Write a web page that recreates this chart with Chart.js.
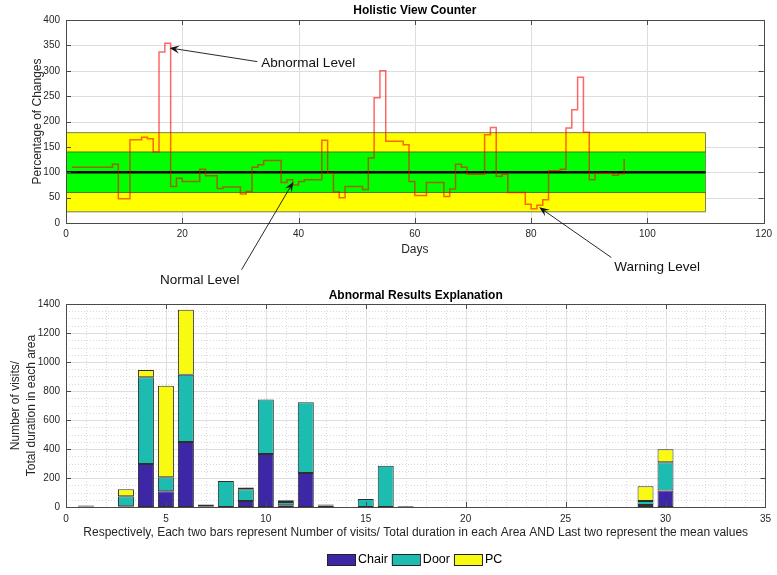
<!DOCTYPE html>
<html><head><meta charset="utf-8">
<script src="https://cdn.jsdelivr.net/npm/chart.js@4.4.1/dist/chart.umd.min.js"></script>
<style>
html,body{margin:0;padding:0;background:#fff;width:777px;height:575px;overflow:hidden;position:relative}
#c1{position:absolute;left:0;top:0}
#c2{position:absolute;left:0;top:290px}
</style></head><body>
<canvas id="c1" width="777" height="290"></canvas>
<canvas id="c2" width="777" height="285"></canvas>
<script>
// ---------------- DATA ----------------
// Top chart: step series (day where a level starts, level value)
const stepDays = [1,8,9,11,13,14,15,16,17,18,19,20,23,24,26,27,30,31,32,33,34,37,38,39,40,41,44,45,46,47,48,51,52,53,54,55,58,59,60,62,65,66,67,68,69,72,73,74,75,76,79,80,81,82,83,85,86,87,88,89,90,91,94,95,96];
const stepValues = [110,116,48,164,169,166,140,337,354,72,88,82,106,93,68,71,57,62,110,115,123,80,85,75,82,85,163,98,61,50,72,66,128,247,300,161,154,82,54,80,52,67,116,110,96,174,188,92,96,60,37,28,35,46,103,106,187,223,287,179,85,98,94,97,126];
const meanLevel = 100;
const normalBand = [60, 140];
const warningBand = [22, 178];
const bandDays = [0, 110];

// Bottom chart: stacked bars
const barPositions = [1,3,4,5,6,7,8,9,10,11,12,13,15,16,17,29,30];
const chairValues  = [0,5,297,108,449,5,0,41,366,12,235,0,0,0,6,14,113];
const doorValues   = [3,69,598,97,463,13,180,81,375,23,488,10,55,285,0,27,195];
const pcValues     = [7,48,49,631,448,0,0,12,0,11,0,8,0,0,0,102,90];
const seriesNames  = ['Chair','Door','PC'];

// ---------------- STYLE ----------------
const FONT = "'Liberation Sans', Arial, Helvetica, sans-serif";
const AX = '#262626';
const seriesColors = ['#3e27a6', '#1cbdb0', '#f8fa12'];

function txt(ctx, s, x, y, size, opt = {}) {
  ctx.save();
  ctx.font = (opt.bold ? 'bold ' : '') + size + 'px ' + FONT;
  ctx.fillStyle = opt.color || AX;
  ctx.textAlign = opt.align || 'center';
  ctx.textBaseline = 'middle';
  ctx.translate(x, y);
  if (opt.rot) ctx.rotate(opt.rot);
  ctx.fillText(s, 0, 0);
  ctx.restore();
}

function arrow(ctx, x1, y1, x2, y2) {
  ctx.save();
  ctx.strokeStyle = '#111'; ctx.fillStyle = '#111'; ctx.lineWidth = 0.9;
  const ang = Math.atan2(y2 - y1, x2 - x1);
  const L = 10, W = 4;
  ctx.beginPath(); ctx.moveTo(x1, y1);
  ctx.lineTo(x2 - 0.6 * L * Math.cos(ang), y2 - 0.6 * L * Math.sin(ang)); ctx.stroke();
  ctx.beginPath();
  ctx.moveTo(x2, y2);
  ctx.lineTo(x2 - L * Math.cos(ang) + W * Math.sin(ang), y2 - L * Math.sin(ang) - W * Math.cos(ang));
  ctx.lineTo(x2 - 0.6 * L * Math.cos(ang), y2 - 0.6 * L * Math.sin(ang));
  ctx.lineTo(x2 - L * Math.cos(ang) - W * Math.sin(ang), y2 - L * Math.sin(ang) + W * Math.cos(ang));
  ctx.closePath(); ctx.fill();
  ctx.restore();
}

const px = v => Math.round(v) + 0.5;

const matlabAxes = {
  id: 'matlabAxes',
  beforeDatasetsDraw(chart, args, o) {
    const { ctx, chartArea: a, scales: { x, y } } = chart;
    ctx.save();
    ctx.lineWidth = 1;
    if (o.minor) {
      ctx.strokeStyle = '#d9d9d9'; ctx.setLineDash([1, 2]);
      for (let v = x.min; v <= x.max; v += o.minor[0]) {
        if (v % o.major[0] === 0) continue;
        const p = px(x.getPixelForValue(v));
        ctx.beginPath(); ctx.moveTo(p, a.top); ctx.lineTo(p, a.bottom); ctx.stroke();
      }
      for (let v = y.min; v <= y.max; v += o.minor[1]) {
        if (v % o.major[1] === 0) continue;
        const p = px(y.getPixelForValue(v));
        ctx.beginPath(); ctx.moveTo(a.left, p); ctx.lineTo(a.right, p); ctx.stroke();
      }
      ctx.setLineDash([]);
    }
    ctx.strokeStyle = '#dedede';
    for (let v = x.min + o.major[0]; v < x.max; v += o.major[0]) {
      const p = px(x.getPixelForValue(v));
      ctx.beginPath(); ctx.moveTo(p, a.top); ctx.lineTo(p, a.bottom); ctx.stroke();
    }
    for (let v = y.min + o.major[1]; v < y.max; v += o.major[1]) {
      const p = px(y.getPixelForValue(v));
      ctx.beginPath(); ctx.moveTo(a.left, p); ctx.lineTo(a.right, p); ctx.stroke();
    }
    ctx.restore();
  },
  afterDatasetsDraw(chart, args, o) {
    const { ctx, chartArea: a, scales: { x, y } } = chart;
    ctx.save();
    ctx.strokeStyle = '#4a4a4a'; ctx.lineWidth = 1;
    ctx.strokeRect(px(a.left), px(a.top), Math.round(a.right - a.left), Math.round(a.bottom - a.top));
    const t = 5;
    ctx.beginPath();
    for (let v = x.min + o.major[0]; v < x.max; v += o.major[0]) {
      const p = px(x.getPixelForValue(v));
      ctx.moveTo(p, a.bottom); ctx.lineTo(p, a.bottom - t);
      ctx.moveTo(p, a.top); ctx.lineTo(p, a.top + t);
    }
    for (let v = y.min + o.major[1]; v < y.max; v += o.major[1]) {
      const p = px(y.getPixelForValue(v));
      ctx.moveTo(a.left, p); ctx.lineTo(a.left + t, p);
      ctx.moveTo(a.right, p); ctx.lineTo(a.right - t, p);
    }
    ctx.stroke();
    ctx.restore();
  },
  afterDraw(chart, args, o) {
    const { ctx, chartArea: a, scales: { x, y } } = chart;
    const cx = (a.left + a.right) / 2;
    txt(ctx, o.title, cx, o.titleY, 12, { bold: true, color: '#000' });
    txt(ctx, o.xlabel, cx, o.xlabelY, 12);
    o.ylabel.forEach((s, i) => txt(ctx, s, o.ylabelX[i], (a.top + a.bottom) / 2, 12, { rot: -Math.PI / 2 }));
    (o.notes || []).forEach(n => {
      arrow(ctx, x.getPixelForValue(n.from[0]), y.getPixelForValue(n.from[1]),
                 x.getPixelForValue(n.to[0]), y.getPixelForValue(n.to[1]));
      txt(ctx, n.text, x.getPixelForValue(n.at[0]), y.getPixelForValue(n.at[1]), 13.5, { align: n.align, color: '#111' });
    });
    if (o.legend) {
      const L = o.legend;
      let lx = L.x;
      chart.data.datasets.forEach(ds => {
        ctx.save();
        ctx.fillStyle = ds.backgroundColor; ctx.strokeStyle = '#222'; ctx.lineWidth = 1;
        ctx.fillRect(lx, L.y - 5, 28, 11); ctx.strokeRect(lx + 0.5, L.y - 4.5, 28, 11);
        ctx.restore();
        txt(ctx, ds.label, lx + 31, L.y + 0.5, 12.5, { align: 'left', color: '#000' });
        ctx.save(); ctx.font = '12.5px ' + FONT;
        lx += 31 + ctx.measureText(ds.label).width + 4;
        ctx.restore();
      });
    }
  }
};

const tickFont = { family: FONT, size: 10 };
const plain = v => String(v);

// ---------------- TOP CHART ----------------
const stepPoints = stepDays.map((d, i) => ({ x: d, y: stepValues[i] }));
const hline = v => bandDays.map(d => ({ x: d, y: v }));

new Chart(document.getElementById('c1'), {
  type: 'line',
  data: {
    datasets: [
      { data: stepPoints, borderColor: 'rgba(255,0,0,0.6)', borderWidth: 1.5, stepped: true, fill: false, order: 0 },
      { data: hline(meanLevel), borderColor: '#000', borderWidth: 2.6, fill: false, order: 1 },
      { data: hline(normalBand[1]), borderColor: 'rgba(70,70,40,0.75)', borderWidth: 1, backgroundColor: '#00ff00', fill: { value: normalBand[0] }, order: 3 },
      { data: hline(normalBand[0]), borderColor: 'rgba(70,70,40,0.75)', borderWidth: 1, fill: false, order: 2 },
      { data: hline(warningBand[1]), borderColor: 'rgba(80,80,60,0.75)', borderWidth: 1, backgroundColor: '#ffff00', fill: { value: warningBand[0] }, order: 5 },
      { data: hline(warningBand[0]), borderColor: 'rgba(80,80,60,0.75)', borderWidth: 1, fill: false, order: 4 },
      { data: [{ x: bandDays[1], y: warningBand[0] }, { x: bandDays[1], y: warningBand[1] }], borderColor: 'rgba(80,80,60,0.75)', borderWidth: 1, fill: false, order: 4 }
    ]
  },
  options: {
    responsive: false, animation: false, devicePixelRatio: 1,
    layout: { padding: { left: 0, right: 9, top: 20, bottom: 0 }, autoPadding: false },
    elements: { point: { radius: 0, hoverRadius: 0 }, line: { tension: 0 } },
    plugins: {
      legend: { display: false }, tooltip: { enabled: false },
      matlabAxes: {
        major: [20, 50],
        title: 'Holistic View Counter', titleY: 11,
        xlabel: 'Days', xlabelY: 250,
        ylabel: ['Percentage of Changes'], ylabelX: [38],
        notes: [
          { text: 'Abnormal Level', at: [33.6, 314], from: [32.9, 318], to: [17.8, 345], align: 'left' },
          { text: 'Normal Level', at: [23.0, -113], from: [30.2, -92], to: [39.1, 81], align: 'center' },
          { text: 'Warning Level', at: [94.3, -88], from: [93.8, -68], to: [81.4, 31], align: 'left' }
        ]
      }
    },
    scales: {
      x: { type: 'linear', min: 0, max: 120, ticks: { stepSize: 20, color: AX, font: tickFont, padding: 5, maxRotation: 0, callback: plain },
           grid: { display: false, drawTicks: false }, border: { display: false }, afterFit(s) { s.height = 67; } },
      y: { type: 'linear', min: 0, max: 400, ticks: { stepSize: 50, color: AX, font: tickFont, padding: 6, callback: plain },
           grid: { display: false, drawTicks: false }, border: { display: false }, afterFit(s) { s.width = 66; } }
    }
  },
  plugins: [matlabAxes]
});

// ---------------- BOTTOM CHART ----------------
const seriesValues = [chairValues, doorValues, pcValues];
new Chart(document.getElementById('c2'), {
  type: 'bar',
  data: {
    datasets: seriesNames.map((name, i) => ({
      label: name,
      data: barPositions.map((p, j) => ({ x: p, y: seriesValues[i][j] })),
      backgroundColor: seriesColors[i], borderColor: '#2e2e2e', borderWidth: 1, borderSkipped: false,
      barPercentage: 0.8, categoryPercentage: 1
    }))
  },
  options: {
    responsive: false, animation: false, devicePixelRatio: 1,
    layout: { padding: { left: 0, right: 8, top: 14, bottom: 0 }, autoPadding: false },
    plugins: {
      legend: { display: false }, tooltip: { enabled: false },
      matlabAxes: {
        major: [5, 200], minor: [1, 50],
        title: 'Abnormal Results Explanation', titleY: 6,
        xlabel: 'Respectively, Each two bars represent Number of visits/ Total duration in each Area AND Last two represent the mean values', xlabelY: 243,
        ylabel: ['Number of visits/', 'Total duration in each area'], ylabelX: [16, 32],
        legend: { x: 327, y: 269 }
      }
    },
    scales: {
      x: { type: 'linear', stacked: true, offset: false, min: 0, max: 35,
           ticks: { stepSize: 5, color: AX, font: tickFont, padding: 6, maxRotation: 0, callback: plain },
           grid: { display: false, drawTicks: false, offset: false }, border: { display: false }, afterFit(s) { s.height = 68; } },
      y: { stacked: true, min: 0, max: 1400, ticks: { stepSize: 200, color: AX, font: tickFont, padding: 6, callback: plain },
           grid: { display: false, drawTicks: false }, border: { display: false }, afterFit(s) { s.width = 66; } }
    }
  },
  plugins: [matlabAxes]
});
</script>
</body></html>
